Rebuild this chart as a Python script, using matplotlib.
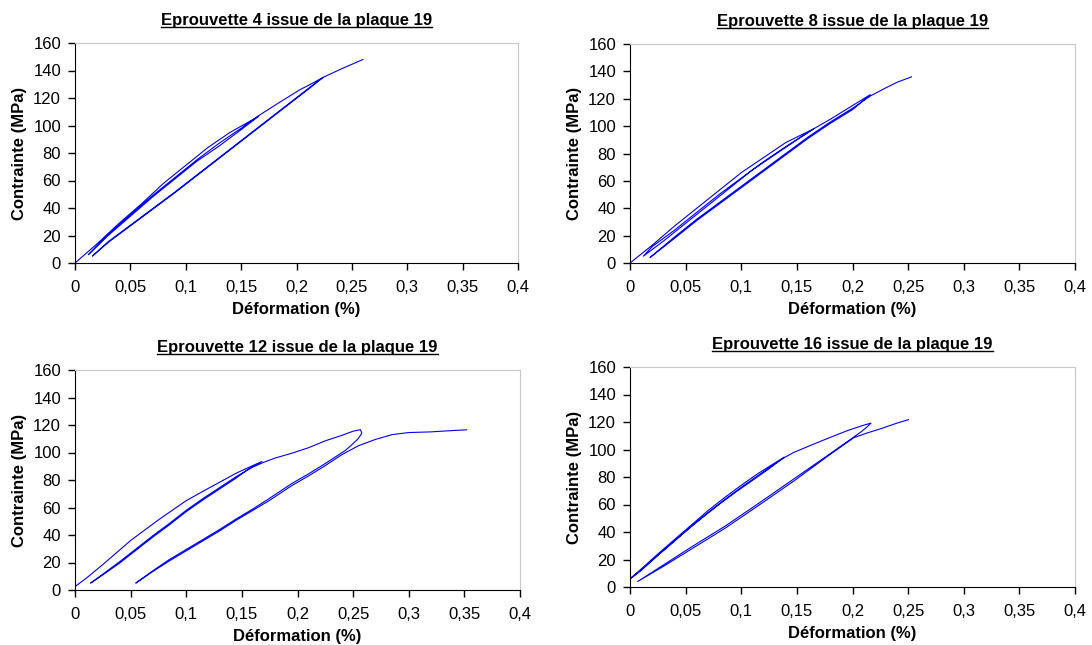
import matplotlib
matplotlib.use("Agg")
import matplotlib.pyplot as plt
from matplotlib.lines import Line2D

plt.rcParams['font.family'] = ['Liberation Sans', 'DejaVu Sans']

# Titres des 4 essais
titles = [
    "Eprouvette 4 issue de la plaque 19",
    "Eprouvette 8 issue de la plaque 19",
    "Eprouvette 12 issue de la plaque 19",
    "Eprouvette 16 issue de la plaque 19",
]

# Eprouvette 4 : charge / décharge / recharge (déformation %, contrainte MPa)
p4_x = [0, 0.02, 0.04, 0.06, 0.08, 0.10, 0.12, 0.14, 0.1655,
        0.15, 0.13, 0.11, 0.09, 0.07, 0.05, 0.03, 0.012,
        0.03, 0.05, 0.07, 0.09, 0.11, 0.13, 0.15, 0.1655, 0.185, 0.203, 0.215, 0.224,
        0.21, 0.19, 0.17, 0.15, 0.13, 0.11, 0.09, 0.07, 0.05, 0.03, 0.0157,
        0.03, 0.05, 0.07, 0.09, 0.11, 0.13, 0.15, 0.17, 0.19, 0.21, 0.224, 0.24, 0.26]
p4_y = [0, 14, 29, 43, 58, 71, 84, 95, 106.5,
        97, 85, 74, 61, 48, 34, 20, 6,
        21, 35, 49, 62, 75, 87, 98, 107, 117, 126, 131, 135,
        126, 113.5, 101, 88.5, 76, 63.5, 51, 39, 27, 15, 5,
        15.5, 27.5, 39.5, 51.5, 64, 76.5, 89, 101.5, 114, 126.5, 135, 141, 148]

# Eprouvette 8
p8_x = [0, 0.02, 0.04, 0.06, 0.08, 0.10, 0.12, 0.14, 0.165,
        0.14, 0.12, 0.10, 0.08, 0.06, 0.04, 0.02, 0.012,
        0.03, 0.05, 0.07, 0.09, 0.11, 0.13, 0.15, 0.165, 0.18, 0.2, 0.216,
        0.2, 0.18, 0.16, 0.14, 0.12, 0.10, 0.08, 0.06, 0.04, 0.018,
        0.04, 0.06, 0.08, 0.10, 0.12, 0.14, 0.16, 0.18, 0.2, 0.216, 0.23, 0.24, 0.253]
p8_y = [0, 13, 27, 40, 53, 66, 77, 88, 98,
        85, 74, 62, 50, 37, 24, 12, 5,
        16, 29, 42, 55, 68, 79, 90, 98, 105, 115, 123,
        112, 102, 91, 79, 67, 55, 43, 31, 18, 4,
        19, 32, 44, 56, 68, 80, 92, 103, 113, 122, 128, 132, 136]

# Eprouvette 12
p12_x = [0, 0.01, 0.025, 0.05, 0.075, 0.1, 0.12, 0.145, 0.168,
         0.155, 0.145, 0.13, 0.115, 0.1, 0.085, 0.07, 0.055, 0.04, 0.025, 0.014,
         0.025, 0.04, 0.055, 0.07, 0.085, 0.1, 0.115, 0.13, 0.145, 0.16, 0.17, 0.18,
         0.195, 0.21, 0.225, 0.24, 0.25, 0.2566,
         0.2578, 0.2545, 0.248, 0.243, 0.225, 0.21, 0.195, 0.1745, 0.16, 0.1445, 0.13,
         0.1145, 0.1, 0.0845, 0.07, 0.0546,
         0.07, 0.0845, 0.1, 0.1145, 0.13, 0.1445, 0.16, 0.1745, 0.195, 0.21, 0.225,
         0.24, 0.255, 0.27, 0.285, 0.3, 0.32, 0.34, 0.352]
p12_y = [2.5, 8.5, 18.5, 36, 51, 65, 74, 85, 93.5,
         87.5, 81.5, 73.5, 65.5, 57, 47.5, 38.5, 29, 19.5, 11, 5,
         11.5, 20.5, 30, 39.5, 48.5, 58, 66.5, 74.5, 82.5, 89.5, 93, 96,
         99.5, 103.5, 108.5, 112.5, 115.5, 116.6,
         114, 110, 105, 101.5, 92, 84.5, 77.5, 66.5, 59, 51.5, 44,
         36.5, 29.5, 22, 14, 5,
         13.5, 21, 28.5, 35.5, 43, 50.5, 58, 65, 76, 83, 90.5,
         98.5, 105, 109.5, 113, 114.5, 115, 116, 116.5]

# Eprouvette 16
p16_x = [0, 0.01, 0.025, 0.04, 0.055, 0.07, 0.085, 0.1, 0.115, 0.1386,
         0.125, 0.11, 0.095, 0.08, 0.065, 0.05, 0.035, 0.02, 0.008, 0.001,
         0.01, 0.025, 0.04, 0.055, 0.07, 0.085, 0.1, 0.115, 0.13, 0.1386, 0.147,
         0.165, 0.18, 0.195, 0.2085, 0.2166,
         0.2125, 0.207, 0.18, 0.148, 0.115, 0.085, 0.055, 0.03, 0.0069,
         0.03, 0.055, 0.085, 0.115, 0.148, 0.18, 0.201, 0.213, 0.225, 0.24, 0.2503]
p16_y = [6, 13, 24, 34.5, 45, 55.5, 65, 74, 82.5, 94.5,
         86, 77.5, 69, 60, 50.5, 40.5, 30, 19.5, 11, 6.5,
         12, 23, 33.5, 44, 54, 63.5, 72.5, 81, 89.5, 94, 97.8,
         103.9, 108.8, 113.6, 117.3, 119.2,
         116, 112.4, 97, 79, 60.5, 44, 29, 16, 4,
         15, 27.5, 42.5, 59, 77.5, 96.5, 108.5, 112, 115, 119.2, 121.7]

curves = [(p4_x, p4_y), (p8_x, p8_y), (p12_x, p12_y), (p16_x, p16_y)]

x_ticks = [0, 0.05, 0.1, 0.15, 0.2, 0.25, 0.3, 0.35, 0.4]
x_labels = ["0", "0,05", "0,1", "0,15", "0,2", "0,25", "0,3", "0,35", "0,4"]
y_ticks = [0, 20, 40, 60, 80, 100, 120, 140, 160]

W, H = 1092, 645
# positions des zones de tracé en pixels : gauche, droite, haut, bas
boxes = [(75, 518, 43, 263), (630, 1075, 44, 263),
         (75, 520, 370, 590), (630, 1075, 367, 587)]

fig = plt.figure(figsize=(W / 100, H / 100), dpi=100)

axes = []
for (l, r, t, b), title, (xs, ys) in zip(boxes, titles, curves):
    ax = fig.add_axes([l / W, (H - b) / H, (r - l) / W, (b - t) / H])
    ax.plot(xs, ys, color='#0000FF', linewidth=0.8)
    ax.set_xlim(0, 0.4)
    ax.set_ylim(0, 160)
    ax.set_xticks(x_ticks)
    ax.set_xticklabels(x_labels)
    ax.set_yticks(y_ticks)
    ax.tick_params(direction='out', length=5, width=1, colors='black',
                   labelsize=12)
    ax.tick_params(axis='x', pad=7.5)
    ax.tick_params(axis='y', pad=5)
    for side in ['top', 'right']:
        ax.spines[side].set_color('#C8C8C8')
    for side in ['left', 'bottom']:
        ax.spines[side].set_color('black')
    ax.set_xlabel('Déformation (%)', fontsize=12, fontweight='bold', labelpad=5)
    ax.set_ylabel('Contrainte (MPa)', fontsize=12, fontweight='bold', labelpad=4.5)
    ax.set_title(title, fontsize=12, fontweight='bold', pad=13)
    axes.append(ax)

# soulignement des titres
fig.canvas.draw()
renderer = fig.canvas.get_renderer()
for ax in axes:
    bb = ax.title.get_window_extent(renderer)
    y = (bb.y0 + 1) / H
    fig.add_artist(Line2D([bb.x0 / W, bb.x1 / W], [y, y], color='black',
                          linewidth=1, transform=fig.transFigure))

fig.savefig("out.png", dpi=100)
